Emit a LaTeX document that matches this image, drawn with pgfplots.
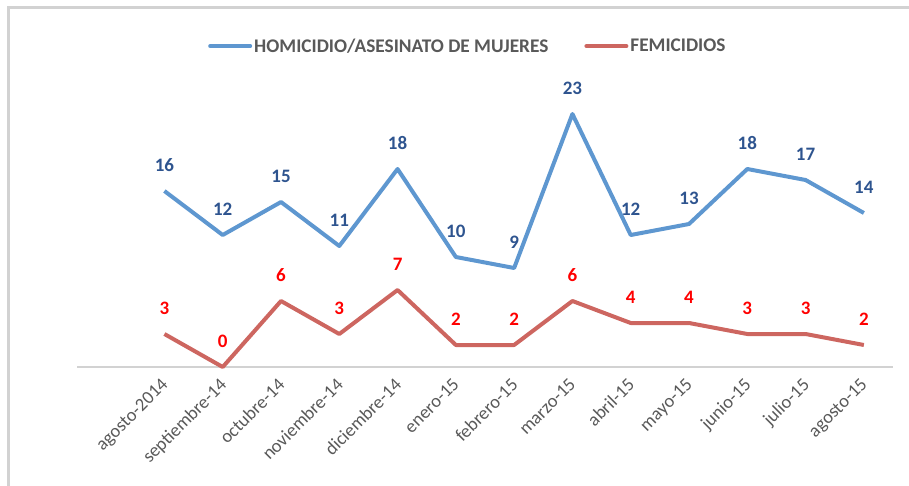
\documentclass[border=0pt]{standalone}
\usepackage{pgfplots}
\pgfplotsset{compat=1.18}
\usepackage{fontspec}
\setmainfont{Carlito}
\definecolor{lblue}{RGB}{94,151,208}
\definecolor{lred}{RGB}{205,102,96}
\definecolor{dblue}{RGB}{46,84,143}
\definecolor{tgray}{RGB}{89,89,89}
\definecolor{fgray}{RGB}{210,210,210}
\begin{document}
\begin{tikzpicture}[x=1pt,y=1pt]
\path[use as bounding box] (0,0) rectangle (909,485);
\draw[fgray, line width=3pt] (8,-20) -- (8,477) -- (940,477);
\begin{axis}[
  at={(77pt,118pt)}, anchor=south west,
  scale only axis, width=816pt, height=275pt,
  xmin=-1.5, xmax=12.5, ymin=0, ymax=25,
  axis x line=bottom, axis y line=none,
  axis line style={draw=fgray, line width=1.2pt, -},
  xtick={0,...,12},
  xticklabels={agosto-2014,septiembre-14,octubre-14,noviembre-14,diciembre-14,enero-15,febrero-15,marzo-15,abril-15,mayo-15,junio-15,julio-15,agosto-15},
  major tick length=0pt,
  xticklabel style={rotate=45, anchor=north east, font=\fontsize{18.5}{20}\selectfont, text=tgray, inner sep=0pt, xshift=-10pt, yshift=-4pt},
  nodes near coords, point meta=explicit symbolic,
  every node near coord/.append style={anchor=center, yshift=26pt, font=\fontsize{19}{21}\selectfont\bfseries, inner sep=0pt},
  legend columns=2,
  legend style={draw=none, at={(0.479,1.167)}, anchor=center, font=\fontsize{19.3}{21}\selectfont\bfseries, text=tgray, /tikz/every even column/.append style={column sep=34pt}},
  legend image code/.code={\draw[#1, line width=4pt, line cap=round] (0pt,0pt) -- (40pt,0pt);},
  clip=false,
]
\addplot[lblue, line width=4pt, line join=round, every node near coord/.append style={text=dblue}] coordinates {
(0,16)[16] (1,12)[12] (2,15)[15] (3,11)[11] (4,18)[18] (5,10)[10] (6,9)[9] (7,23)[23] (8,12)[12] (9,13)[13] (10,18)[18] (11,17)[17] (12,14)[14]};
\addlegendentry{HOMICIDIO/ASESINATO DE MUJERES}
\addplot[lred, line width=4pt, line join=round, every node near coord/.append style={text=red}] coordinates {
(0,3)[3] (1,0)[0] (2,6)[6] (3,3)[3] (4,7)[7] (5,2)[2] (6,2)[2] (7,6)[6] (8,4)[4] (9,4)[4] (10,3)[3] (11,3)[3] (12,2)[2]};
\addlegendentry{FEMICIDIOS}
\end{axis}
\end{tikzpicture}
\end{document}
